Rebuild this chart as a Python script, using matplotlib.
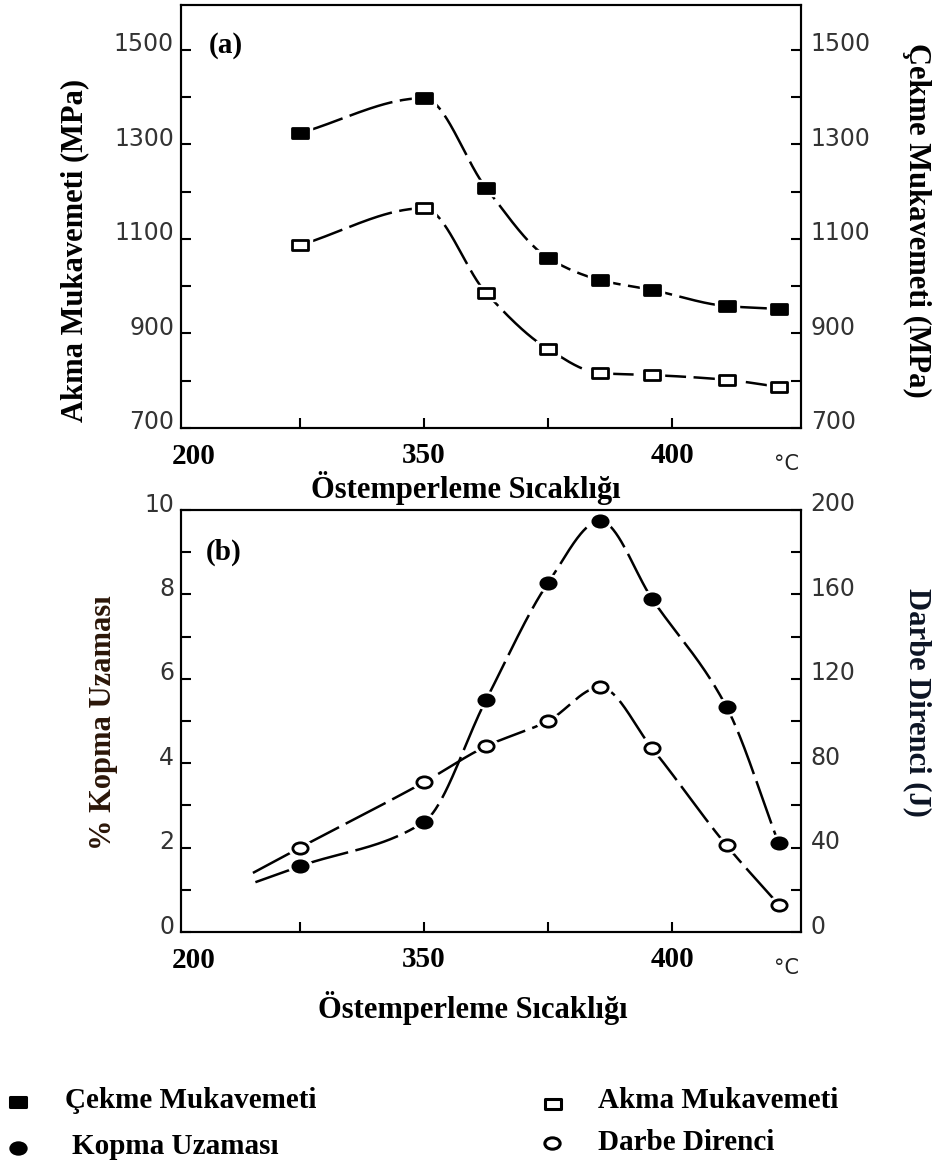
import matplotlib
matplotlib.use('Agg')
import matplotlib.pyplot as plt
from matplotlib.path import Path
from matplotlib.transforms import Affine2D, ScaledTranslation
import numpy as np


# austempering temperature of the samples (deg C)
temps = [250, 300, 325, 350, 371, 392, 422, 443]

# (a) strength, MPa
cekme = [1324, 1398, 1208, 1060, 1013, 992, 958, 952]
akma = [1087, 1165, 986, 867, 816, 812, 802, 787]

# (b) elongation (%) and impact energy (J)
kopma = [1.56, 2.61, 5.5, 8.27, 9.74, 7.89, 5.33, 2.1]
darbe = [40, 71, 88, 100, 116, 87, 41, 13]
# the curves in (b) start a little left of the first sample
kopma_start = (232, 1.18)
darbe_start = (231, 28)

xtick_pos = [250, 300, 350, 400]
xtick_labels = ['', '350', '', '400']
mpa_ticks = list(range(700, 1501, 100))
mpa_labels = ['700', '', '900', '', '1100', '', '1300', '', '1500']
uzama_ticks = list(range(0, 11))
uzama_labels = ['0', '', '2', '', '4', '', '6', '', '8', '', '10']
darbe_ticks = list(range(0, 201, 20))
darbe_labels = ['0', '', '40', '', '80', '', '120', '', '160', '', '200']

SERIF = 'Liberation Serif'
SANS = 'DejaVu Sans'

RECT = Path([(-1.5, -1), (1.5, -1), (1.5, 1), (-1.5, 1), (-1.5, -1)],
            [Path.MOVETO, Path.LINETO, Path.LINETO, Path.LINETO, Path.CLOSEPOLY])
ELLIPSE = Path.unit_circle().transformed(Affine2D().scale(1.35, 1.0))


def smooth(x, y, n=60):
    # monotone cubic (pchip) so the curve does not overshoot the peaks
    x = np.asarray(x, float)
    y = np.asarray(y, float)
    h = np.diff(x)
    d = np.diff(y) / h
    m = np.zeros_like(y)
    m[0], m[-1] = d[0], d[-1]
    for k in range(1, len(x) - 1):
        if d[k-1] * d[k] > 0:
            w1, w2 = 2*h[k] + h[k-1], h[k] + 2*h[k-1]
            m[k] = (w1 + w2) / (w1/d[k-1] + w2/d[k])
    xs, ys = [], []
    t = np.linspace(0, 1, n)
    for k in range(len(h)):
        h00 = 2*t**3 - 3*t**2 + 1
        h10 = t**3 - 2*t**2 + t
        h01 = -2*t**3 + 3*t**2
        h11 = t**3 - t**2
        ys.append(h00*y[k] + h10*h[k]*m[k] + h01*y[k+1] + h11*h[k]*m[k+1])
        xs.append(x[k] + t*h[k])
    return np.concatenate(xs), np.concatenate(ys)


def draw_curve(ax, x, y, marker, filled, start=None, ms=11):
    lx, ly = list(x), list(y)
    if start:
        lx, ly = [start[0]] + lx, [start[1]] + ly
    xs, ys = smooth(lx, ly)
    ax.plot(xs, ys, color='black', lw=1.8, dashes=(18, 3), zorder=2)
    # white halo so the line stops short of the markers, like the scan
    ax.plot(x, y, ls='none', marker=marker, ms=ms + 6, mfc='white', mec='white', zorder=3)
    ax.plot(x, y, ls='none', marker=marker, ms=ms, mfc='black' if filled else 'white',
            mec='black', mew=2, zorder=4)


def style_axes(ax, ax2, left_ticks, left_labels, right_ticks, right_labels, fig):
    for a in (ax, ax2):
        for sp in a.spines.values():
            sp.set_linewidth(1.5)
        a.tick_params(axis='y', direction='in', length=7, width=1.5, labelsize=17,
                      labelcolor='#333333')
    ax.tick_params(axis='y', pad=5)
    ax2.tick_params(axis='y', pad=7)
    ax.set_yticks(left_ticks)
    ax.set_yticklabels(left_labels, fontfamily=SANS)
    ax2.set_yticks(right_ticks)
    ax2.set_yticklabels(right_labels, fontfamily=SANS)
    ax.set_xticks(xtick_pos)
    ax.set_xticklabels(xtick_labels, fontfamily=SERIF, fontweight='bold', fontsize=21)
    ax.tick_params(axis='x', direction='in', length=7, width=1.5, pad=10)
    up = ScaledTranslation(0, 0.08, fig.dpi_scale_trans)
    for lab in ax.get_yticklabels() + ax2.get_yticklabels():
        lab.set_transform(lab.get_transform() + up)
    # the odd extra labels under the axis
    ax.text(207, -0.068, '200', transform=ax.get_xaxis_transform(), ha='center', va='center',
            fontfamily=SERIF, fontweight='bold', fontsize=21)
    ax.text(446, -0.085, '°C', transform=ax.get_xaxis_transform(), ha='center', va='center',
            fontfamily=SANS, fontsize=15, color='#222222')


def plot_static():
    fig = plt.figure(figsize=(9.35, 11.67), dpi=100)
    W, H = 935.0, 1167.0

    # (a) strength
    ax_a = fig.add_axes([181/W, 1 - 428/H, 620/W, 423/H])
    ax_a2 = ax_a.twinx()
    for a in (ax_a, ax_a2):
        a.set_xlim(202, 452)
        a.set_ylim(700, 1595)
    draw_curve(ax_a, temps, akma, RECT, filled=False)
    draw_curve(ax_a2, temps, cekme, RECT, filled=True)
    style_axes(ax_a, ax_a2, mpa_ticks, mpa_labels, mpa_ticks, mpa_labels, fig)
    ax_a.text(0.045, 0.905, '(a)', transform=ax_a.transAxes, ha='left', va='center',
              fontfamily=SERIF, fontweight='bold', fontsize=21)

    # (b) elongation / impact
    ax_b = fig.add_axes([181/W, 1 - 932/H, 620/W, 422/H])
    ax_b2 = ax_b.twinx()
    ax_b.set_xlim(202, 452)
    ax_b.set_ylim(0, 10)
    ax_b2.set_ylim(0, 200)
    draw_curve(ax_b, temps, kopma, ELLIPSE, filled=True, start=kopma_start)
    draw_curve(ax_b2, temps, darbe, ELLIPSE, filled=False, start=darbe_start)
    style_axes(ax_b, ax_b2, uzama_ticks, uzama_labels, darbe_ticks, darbe_labels, fig)
    ax_b.text(0.04, 0.9, '(b)', transform=ax_b.transAxes, ha='left', va='center',
              fontfamily=SERIF, fontweight='bold', fontsize=21)

    lab = dict(fontfamily=SERIF, fontweight='bold', fontsize=22, ha='center', va='center')
    fig.text(75/W, 1 - 250/H, 'Akma Mukavemeti (MPa)', rotation=90, **lab)
    fig.text(917/W, 1 - 220/H, 'Çekme Mukavemeti (MPa)', rotation=270, **lab)
    fig.text(466/W, 1 - 488/H, 'Östemperleme Sıcaklığı', **lab)
    fig.text(103/W, 1 - 723/H, '% Kopma Uzaması', rotation=90, color='#2b1608', **lab)
    fig.text(917/W, 1 - 702/H, 'Darbe Direnci (J)', rotation=270, color='#0c1424', **lab)
    fig.text(473/W, 1 - 1008/H, 'Östemperleme Sıcaklığı', **lab)

    # legend drawn by hand in pixel space
    leg = fig.add_axes([0, 0, 1, 1])
    leg.set_xlim(0, W)
    leg.set_ylim(H, 0)
    leg.axis('off')
    entries = [('Çekme Mukavemeti', RECT, True, 18, 1102, 65, 1100),
               ('Kopma Uzaması', ELLIPSE, True, 18, 1148, 72, 1146),
               ('Akma Mukavemeti', RECT, False, 553, 1104, 598, 1100),
               ('Darbe Direnci', ELLIPSE, False, 552, 1143, 598, 1142)]
    for text, mk, filled, mx, my, tx, ty in entries:
        leg.plot([mx], [my], ls='none', marker=mk, ms=11, mfc='black' if filled else 'white',
                 mec='black', mew=2.2)
        leg.text(tx, ty, text, ha='left', va='center', fontfamily=SERIF, fontweight='bold',
                 fontsize=21)

    fig.savefig('out.png', dpi=100)


if __name__ == '__main__':
    plot_static()
